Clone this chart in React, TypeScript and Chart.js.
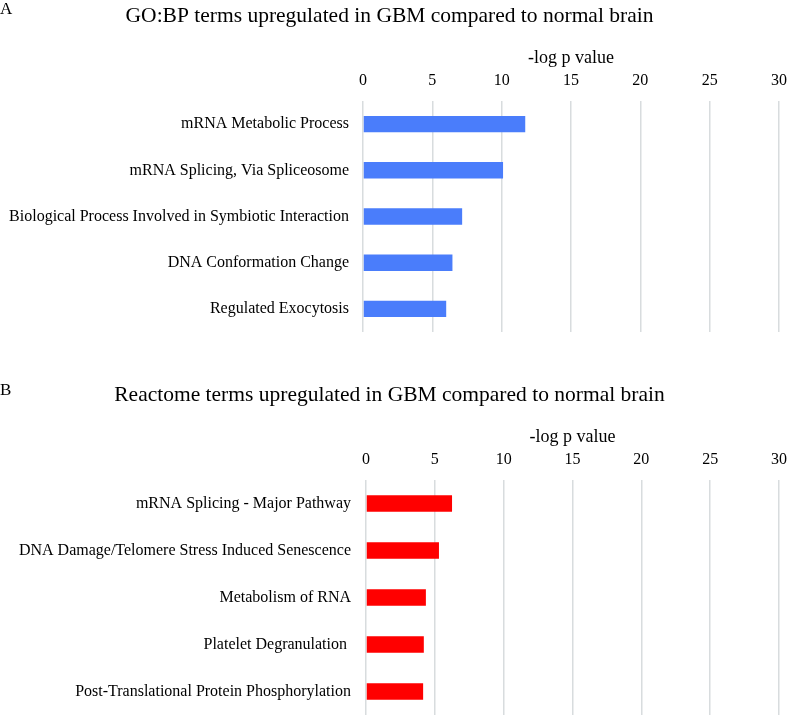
import React, { useEffect, useRef } from 'react';
import { Chart, registerables } from 'chart.js';

Chart.register(...registerables);

const FONT = "'Liberation Serif', 'Times New Roman', serif";

const goTitle = 'GO:BP terms upregulated in GBM compared to normal brain';
const goCategories = [
  'mRNA Metabolic Process',
  'mRNA Splicing, Via Spliceosome',
  'Biological Process Involved in Symbiotic Interaction',
  'DNA Conformation Change',
  'Regulated Exocytosis',
];
const goValues = [11.7, 10.1, 7.15, 6.45, 6.0];

const reactomeTitle = 'Reactome terms upregulated in GBM compared to normal brain';
const reactomeCategories = [
  'mRNA Splicing - Major Pathway',
  'DNA Damage/Telomere Stress Induced Senescence',
  'Metabolism of RNA',
  'Platelet Degranulation ',
  'Post-Translational Protein Phosphorylation',
];
const reactomeValues = [6.25, 5.3, 4.35, 4.2, 4.15];

const axisTitle = '-log p value';
const xMin = 0;
const xMax = 30;
const xStep = 5;

type PanelProps = {
  title: string;
  categories: string[];
  values: number[];
  color: string;
  width: number;
  height: number;
  padTop: number;
  padBottom: number;
  yWidth: number;
  labelGap: number;
};

function Panel(p: PanelProps) {
  const ref = useRef<HTMLCanvasElement | null>(null);
  useEffect(() => {
    if (!ref.current) return;
    const chart = new Chart(ref.current, {
      type: 'bar',
      data: {
        labels: p.categories,
        datasets: [
          {
            data: p.values,
            backgroundColor: p.color,
            borderWidth: 0,
            barPercentage: 0.355,
            categoryPercentage: 1,
          },
        ],
      },
      options: {
        indexAxis: 'y',
        responsive: false,
        animation: false,
        events: [],
        layout: { padding: { top: p.padTop, bottom: p.padBottom, left: 0, right: 8 } },
        plugins: {
          legend: { display: false },
          tooltip: { enabled: false },
          title: {
            display: true,
            text: p.title,
            color: '#000',
            font: { family: FONT, size: 21.5, weight: 'normal', lineHeight: 1.2 },
            padding: { top: 3, bottom: 18.4 },
          },
        },
        scales: {
          x: {
            position: 'top',
            min: xMin,
            max: xMax,
            ticks: {
              stepSize: xStep,
              color: '#000',
              padding: 0,
              font: { family: FONT, size: 16, lineHeight: 1.2 },
            },
            grid: {
              color: '#d8dcde',
              lineWidth: 1.5,
              drawTicks: true,
              tickLength: 11,
              tickColor: 'rgba(0,0,0,0)',
            },
            border: { display: false },
            title: {
              display: true,
              text: axisTitle,
              color: '#000',
              font: { family: FONT, size: 18, lineHeight: 1.2 },
              padding: { top: 0, bottom: 2 },
            },
          },
          y: {
            ticks: {
              color: '#000',
              padding: p.labelGap,
              font: { family: FONT, size: 16, lineHeight: 1.2 },
            },
            grid: { display: false, drawTicks: false },
            border: { display: false },
            afterFit: (scale: any) => {
              scale.width = p.yWidth;
              scale.paddingTop = 0;
              scale.paddingBottom = 0;
            },
          },
        },
      },
    });
    return () => chart.destroy();
  }, []);
  return (
    <canvas
      ref={ref}
      width={p.width}
      height={p.height}
      style={{ display: 'block', width: p.width, height: p.height }}
    />
  );
}

export default function App() {
  useEffect(() => {
    document.body.style.margin = '0';
    document.body.style.background = '#fff';
  }, []);
  const letter: React.CSSProperties = {
    position: 'absolute',
    left: 0,
    fontFamily: FONT,
    fontSize: 17,
    lineHeight: '17px',
    color: '#000',
  };
  return (
    <div style={{ position: 'relative', width: 787, height: 715, background: '#fff', overflow: 'hidden' }}>
      <div style={{ position: 'absolute', left: 0, top: 0 }}>
        <Panel
          title={goTitle}
          categories={goCategories}
          values={goValues}
          color="#4a7dfb"
          width={787}
          height={340}
          padTop={0}
          padBottom={8}
          yWidth={363}
          labelGap={14}
        />
      </div>
      <div style={{ position: 'absolute', left: 0, top: 340 }}>
        <Panel
          title={reactomeTitle}
          categories={reactomeCategories}
          values={reactomeValues}
          color="#ff0000"
          width={787}
          height={375}
          padTop={39}
          padBottom={0}
          yWidth={366}
          labelGap={15}
        />
      </div>
      <div style={{ ...letter, top: 0 }}>A</div>
      <div style={{ ...letter, top: 381 }}>B</div>
    </div>
  );
}
